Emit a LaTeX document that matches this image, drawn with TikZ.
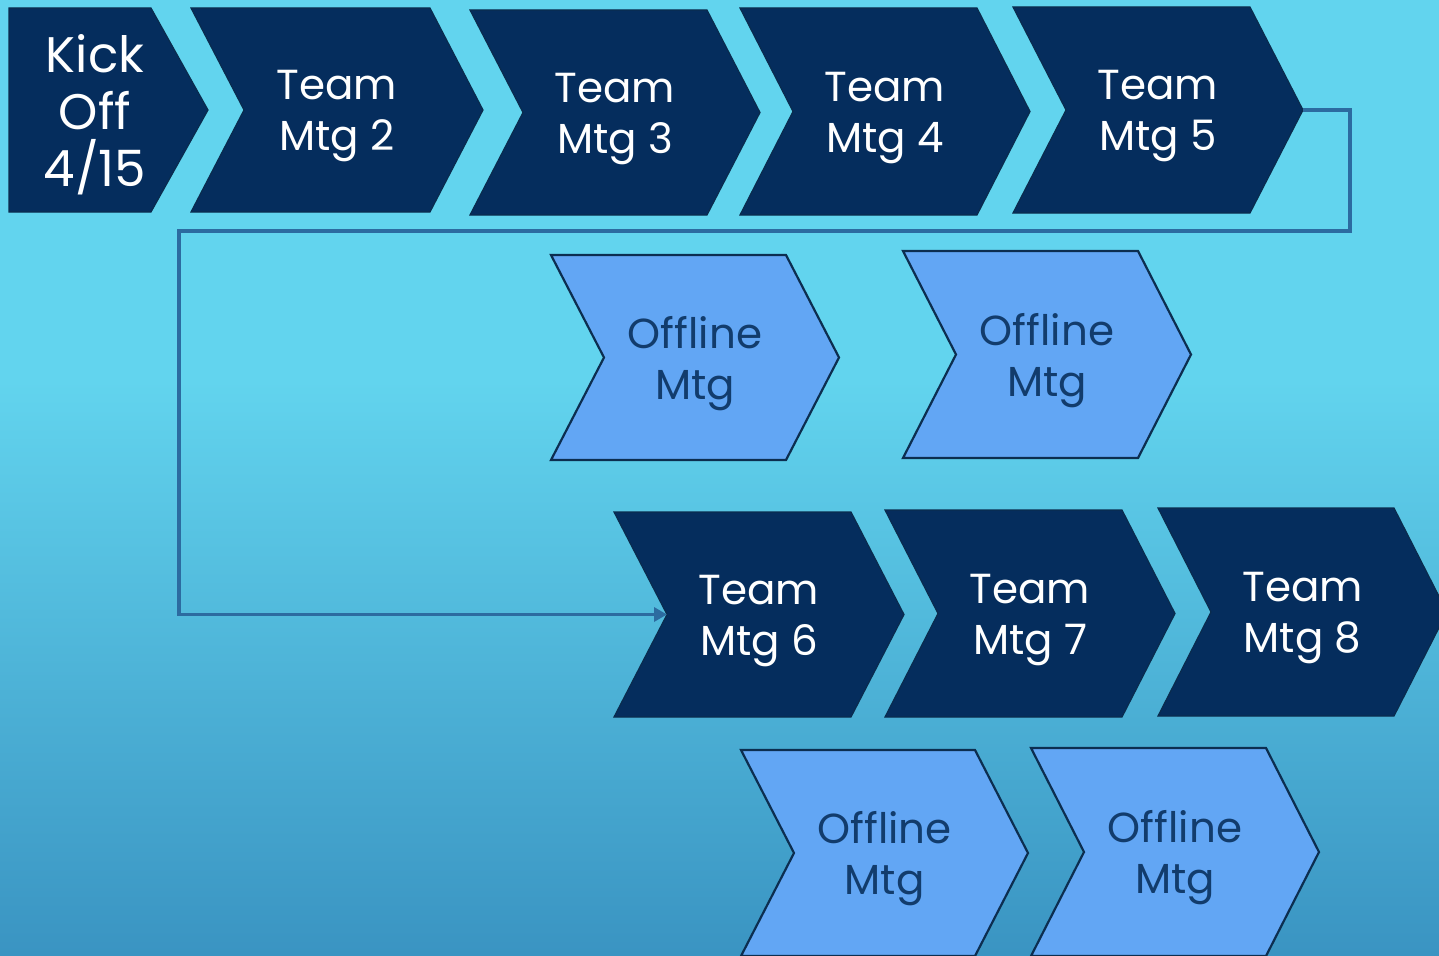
\documentclass[tikz,border=0pt]{standalone}
\usepackage{fontspec}
\setmainfont{Poppins}
\usetikzlibrary{arrows.meta}
\definecolor{bgtop}{HTML}{62D4EE}
\definecolor{bgbot}{HTML}{3A94C2}
\definecolor{navy}{HTML}{052D5D}
\definecolor{navyedge}{HTML}{0A2C4E}
\definecolor{lightfill}{HTML}{62A6F4}
\definecolor{lightedge}{HTML}{0C2E50}
\definecolor{offtext}{HTML}{123C6C}
\definecolor{linkblue}{HTML}{2C6BA0}
\tikzset{
  darkchev/.style={fill=navy, draw=navyedge, line width=1.2pt, line join=miter},
  lightchev/.style={fill=lightfill, draw=lightedge, line width=2.2pt, line join=miter},
  darklabel/.style={text=white, align=center, inner sep=0pt, yshift=-6.5pt, font=\fontsize{42}{51}\selectfont},
  lightlabel/.style={text=offtext, align=center, inner sep=0pt, yshift=-6pt, font=\fontsize{42}{51}\selectfont},
  link/.style={draw=linkblue, line width=3.5pt, line join=miter, -{Triangle[length=13pt,width=14pt]}}
}
% chevron: #1 name, #2 left x, #3 top-right corner x, #4 top y, #5 bottom y,
% #6 shape style, #7 label style, #8 text
\newcommand\chevron[8]{%
  \pgfmathsetmacro\cmid{(#4+#5)/2}%
  \draw[#6] (#2,#4) -- (#3,#4) -- (#3+53,\cmid) -- (#3,#5) -- (#2,#5) -- (#2+53,\cmid) -- cycle;
  \coordinate (#1-tip) at (#3+53,\cmid);
  \coordinate (#1-notch) at (#2+53,\cmid);
  \node[#7] (#1) at ({(#2+#3+53)/2},\cmid) {#8};
}
\begin{document}
\begin{tikzpicture}[x=1pt, y=-1pt]
  \useasboundingbox (0,0) rectangle (1439,955);
  \clip (0,0) rectangle (1439,955);
  % background
  \fill[bgtop] (0,0) rectangle (1439,955);
  \shade[top color=bgtop, bottom color=bgbot] (0,380) rectangle (1439,955);

  % first row
  \draw[darkchev] (9,8) -- (151,8) -- (208,110) -- (151,212) -- (9,212) -- cycle;
  \node[darklabel, yshift=1.5pt, font=\fontsize{50}{57}\selectfont] (kick) at (95,110) {Kick\\Off\\4/15};
  \chevron{m2}{191}{430}{8}{212}{darkchev}{darklabel}{Team\\Mtg 2}
  \chevron{m3}{470}{707}{10}{215}{darkchev}{darklabel}{Team\\Mtg 3}
  \chevron{m4}{740}{977}{8}{215}{darkchev}{darklabel}{Team\\Mtg 4}
  \chevron{m5}{1013}{1250}{7}{213}{darkchev}{darklabel}{Team\\Mtg 5}

  % offline meetings, first pair
  \chevron{o1}{551}{786}{255}{460}{lightchev}{lightlabel}{Offline\\Mtg}
  \chevron{o2}{903}{1138}{251}{458}{lightchev}{lightlabel}{Offline\\Mtg}

  % third row
  \chevron{m6}{614}{851}{512}{717}{darkchev}{darklabel}{Team\\Mtg 6}
  \chevron{m7}{885}{1122}{510}{717}{darkchev}{darklabel}{Team\\Mtg 7}
  \chevron{m8}{1158}{1394}{508}{716}{darkchev}{darklabel}{Team\\Mtg 8}

  % offline meetings, second pair
  \chevron{o3}{741}{975}{750}{956}{lightchev}{lightlabel}{Offline\\Mtg}
  \chevron{o4}{1031}{1266}{748}{956}{lightchev}{lightlabel}{Offline\\Mtg}

  % wrap-around connector
  \coordinate (turnA) at (1350,231);
  \coordinate (turnB) at (179,231);
  \draw[link] (m5-tip) -| (turnA) -- (turnB) |- (m6-notch);
\end{tikzpicture}
\end{document}
